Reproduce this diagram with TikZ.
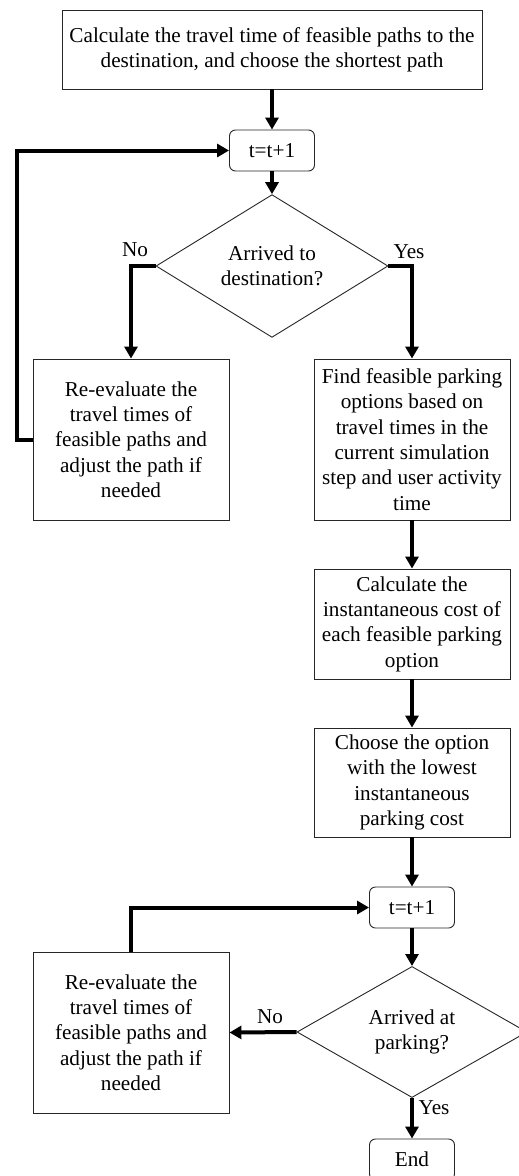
\documentclass[tikz,border=0pt]{standalone}
\usepackage{fontspec}
\setmainfont{Liberation Serif}
\usetikzlibrary{arrows.meta,shapes.geometric}
\tikzset{
  boxn/.style={draw=black!85, line width=0.9pt, minimum width=196pt, align=center, inner sep=0pt, font=\fontsize{21.2}{25.3}\selectfont},
  roundn/.style={draw=black!85, line width=0.9pt, rounded corners=6pt, minimum width=85pt, minimum height=41pt, inner sep=0pt, font=\fontsize{21.2}{25.3}\selectfont},
  decn/.style={draw=black!85, line width=0.9pt, diamond, inner sep=0pt, align=center, font=\fontsize{21.2}{25.3}\selectfont},
  lbl/.style={inner sep=0pt, font=\fontsize{21.2}{25.3}\selectfont},
  arr/.style={line width=4pt, -{Triangle[length=12pt,width=13pt]}},
  ln/.style={line width=4pt}
}
\begin{document}
\begin{tikzpicture}[x=1pt,y=-1pt]
\useasboundingbox (0,0) rectangle (519,1176);
\node[boxn, minimum width=420pt, minimum height=79pt] (top) at (272,49.5)
  {Calculate the travel time of feasible paths to the\\destination, and choose the shortest path};
\node[roundn] (t1) at (272,150.5) {t=t+1};
\node[decn, minimum width=232pt, minimum height=109pt] (d1) at (272,266) {Arrived to\\destination?};
\node[boxn, minimum height=161pt] (L1) at (131,439.5)
  {Re-evaluate the\\travel times of\\feasible paths and\\adjust the path if\\needed};
\node[boxn, minimum height=161pt] (R1) at (412,439.5)
  {Find feasible parking\\options based on\\travel times in the\\current simulation\\step and user activity\\time};
\node[boxn, minimum height=110pt] (R2) at (412,624)
  {Calculate the\\instantaneous cost of\\each feasible parking\\option};
\node[boxn, minimum height=109pt] (R3) at (412,782.5)
  {Choose the option\\with the lowest\\instantaneous\\parking cost};
\node[roundn] (t2) at (412,907.5) {t=t+1};
\node[decn, minimum width=230pt, minimum height=108pt] (d2) at (412,1032) {Arrived at\\parking?};
\node[boxn, minimum height=161pt] (L2) at (131,1032.5)
  {Re-evaluate the\\travel times of\\feasible paths and\\adjust the path if\\needed};
\node[roundn] (end) at (412,1159.5) {End};

\node[lbl] (no1) at (135,250) {No};
\node[lbl] (yes1) at (409,252) {Yes};
\node[lbl] (no2) at (270,1017) {No};
\node[lbl] (yes2) at (434,1108) {Yes};

\coordinate (lp) at (17,0);
\draw[arr] (top.south) -- (t1.north);
\draw[arr] (L1.west) -- (lp |- L1.west) -- (lp |- t1.west) -- (t1.west);
\draw[arr] (t1.south) -- (d1.north);
\draw[arr] (d1.west) -| (L1.north);
\draw[arr] (d1.east) -| (R1.north);
\draw[arr] (R1.south) -- (R2.north);
\draw[arr] (R2.south) -- (R3.north);
\draw[arr] (R3.south) -- (t2.north);
\draw[arr] (L2.north) |- (t2.west);
\draw[arr] (t2.south) -- (d2.north);
\draw[arr] (d2.west) -- (L2.east);
\draw[arr] (d2.south) -- (end.north);
\end{tikzpicture}
\end{document}
